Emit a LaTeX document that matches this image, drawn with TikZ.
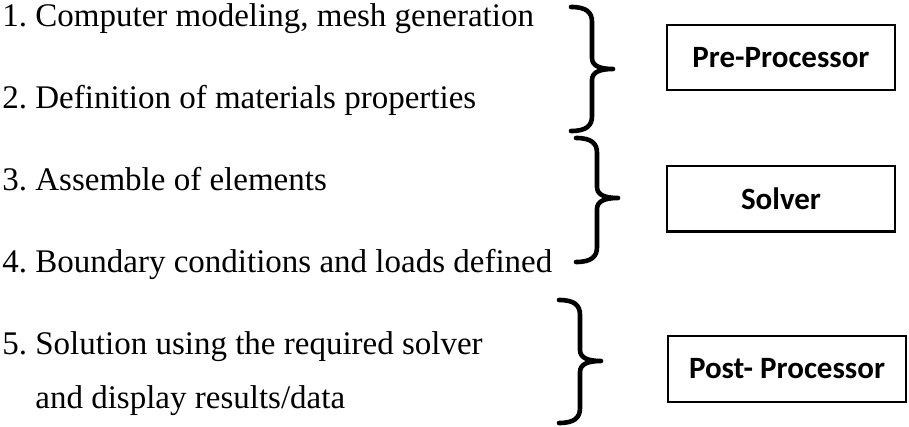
\documentclass[tikz,border=0pt]{standalone}
\usepackage{fontspec}
\setmainfont{Liberation Serif}
\newfontfamily\calibri{Carlito}
\usepackage{tikz}
\usetikzlibrary{positioning}
\frenchspacing

\begin{document}
\begin{tikzpicture}[
    x=0.5pt, y=-0.5pt,
    item/.style={anchor=base west, inner sep=0pt, font=\fontsize{16.5}{19}\selectfont},
    stage/.style={rectangle, draw=black, line width=1pt, align=center, minimum height=32.5pt, minimum width=114pt, inner sep=0pt, font=\calibri\bfseries\fontsize{15.5}{18}\selectfont},
    curly/.style={line width=2.3pt, line cap=round, line join=round}
]
    \useasboundingbox (0,0) rectangle (909,427);

    % steps of the analysis
    \node [item] (l1) at (2,27) {1. Computer modeling, mesh generation};
    \node [item] (l2) at (2,109) {2. Definition of materials properties};
    \node [item] (l3) at (2,191) {3. Assemble of elements};
    \node [item] (l4) at (2,272) {4. Boundary conditions and loads defined};
    \node [item] (l5) at (2,354) {5. Solution using the required solver};
    \node [item] (l6) at (35,408) {and display results/data};

    % stages
    \node [stage] (pre) at (781,58) {Pre-Processor};
    \node [stage] (solver) at (781,199) {Solver};
    \node [stage, minimum width=119pt, minimum height=33pt] (post) at (787,368.5) {Post- Processor};

    % braces
    \foreach \bx/\btop/\btip/\bbot in {592/7/69/131, 597/138/198/262, 580/300/361/423}
        \draw [curly] (\bx-21,\btop) .. controls (\bx-6,\btop) and (\bx,\btop+5) .. (\bx,\btop+15)
            -- (\bx,\btip-11) .. controls (\bx,\btip-3) and (\bx+8,\btip) .. (\bx+21,\btip)
            .. controls (\bx+8,\btip) and (\bx,\btip+3) .. (\bx,\btip+11)
            -- (\bx,\bbot-15) .. controls (\bx,\bbot-5) and (\bx-6,\bbot) .. (\bx-21,\bbot);
\end{tikzpicture}
\end{document}
